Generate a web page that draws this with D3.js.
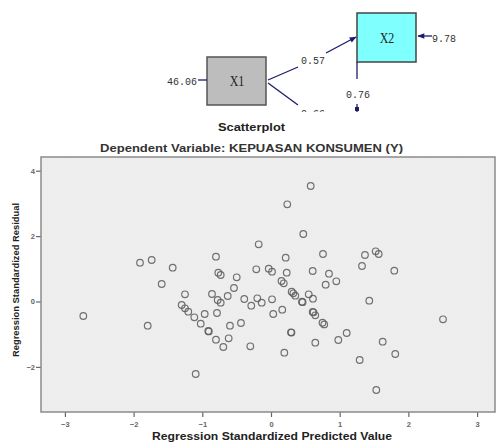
<!DOCTYPE html>
<html><head><meta charset="utf-8">
<script src="https://cdn.jsdelivr.net/npm/d3@7"></script>
<style>body{margin:0;background:#fff}svg{display:block}</style>
</head><body>
<svg id="c" width="498" height="442"></svg>
<script>
// ---- data ----
const predicted = [-1.907,-1.737,-1.431,-1.591,0.578,0.237,0.470,-0.179,-0.801,0.214,0.757,-0.767,-0.732,-0.499,-0.214,-0.033,0.015,0.229,0.607,0.844,0.951,0.796,0.153,0.186,-0.539,1.368,1.524,1.568,1.325,1.795,-1.252,-1.300,-1.252,-1.204,-2.732,-1.795,-0.859,-0.630,-0.776,-0.732,-0.389,-0.199,-0.135,-0.287,0.015,0.301,0.325,0.354,0.451,0.460,0.549,0.611,-0.965,-0.786,-1.116,-1.023,0.033,0.164,0.607,0.620,0.645,-0.597,-0.437,-0.913,-0.905,-0.801,-0.616,-0.694,-0.301,0.291,0.298,0.750,0.775,0.645,0.980,0.194,-1.096,1.431,2.504,1.102,1.626,1.809,1.291,1.533];
const residual  = [1.187,1.269,1.034,0.535,3.532,2.972,2.064,1.749,1.370,1.339,1.453,0.881,0.810,0.740,0.985,1.003,0.911,0.881,0.933,0.850,0.618,0.514,0.627,0.557,0.413,1.422,1.535,1.453,1.086,0.942,0.220,-0.107,-0.208,-0.312,-0.443,-0.740,0.229,0.168,0.046,-0.037,0.076,0.098,-0.037,-0.128,0.067,0.300,0.251,0.177,-0.006,-0.020,0.220,0.086,-0.382,-0.352,-0.483,-0.679,-0.382,-0.251,-0.321,-0.330,-0.422,-0.740,-0.657,-0.902,-0.915,-1.168,-1.125,-1.391,-1.370,-0.942,-0.950,-0.650,-0.700,-1.260,-1.177,-1.566,-2.217,0.024,-0.544,-0.963,-1.229,-1.606,-1.789,-2.706];
const xTicks = [-3,-2,-1,0,1,2,3];
const yTicks = [-2,0,2,4];
const pathNodes = ["X1","X2"];
const pathValues = ["46.06","0.57","0.76","9.78","0.66"];
const titleText = "Scatterplot";
const subtitleText = "Dependent Variable: KEPUASAN KONSUMEN (Y)";
const xTitle = "Regression Standardized Predicted Value";
const yTitle = "Regression Standardized Residual";

const svg = d3.select("#c");
const sans = "Arial,'Liberation Sans',sans-serif";

// ---- path diagram (top) ----
svg.append("defs").html(`
 <clipPath id="dclip"><rect x="0" y="0" width="498" height="112"/></clipPath>
 <marker id="ah" viewBox="0 0 10 10" refX="9" refY="5" markerWidth="9" markerHeight="7" orient="auto" markerUnits="userSpaceOnUse">
   <path d="M0,1 L10,5 L0,9 Z" fill="#1c1c6c"/></marker>
 <filter id="noise" x="0" y="0" width="100%" height="100%">
   <feTurbulence type="fractalNoise" baseFrequency="0.9" numOctaves="1" seed="3" result="t"/>
   <feColorMatrix type="matrix" values="0 0 0 0 0.9  0 0 0 0 0.9  0 0 0 0 0.9  0 0 0 0.35 0" result="n"/>
   <feComposite in="n" in2="SourceGraphic" operator="in" result="m"/>
   <feMerge><feMergeNode in="SourceGraphic"/><feMergeNode in="m"/></feMerge>
 </filter>`);
const diag = svg.append("g").attr("clip-path","url(#dclip)");
const navy = "#1c1c6c";
const mono = "'Liberation Mono','DejaVu Sans Mono',monospace";
diag.append("rect").attr("x",207).attr("y",57).attr("width",59).attr("height",48)
  .attr("fill","#bdbdbd").attr("stroke","#555").attr("stroke-width",1.5);
diag.append("rect").attr("x",357).attr("y",13).attr("width",59).attr("height",49)
  .attr("fill","#80ffff").attr("stroke","#444").attr("stroke-width",1.5);
diag.append("text").attr("x",237).attr("y",86).attr("text-anchor","middle")
  .attr("font-family","'Liberation Serif',serif").attr("font-size",15).attr("fill","#222")
  .attr("transform","translate(237,0) scale(0.8,1) translate(-237,0)").text(pathNodes[0]);
diag.append("text").attr("x",387).attr("y",43).attr("text-anchor","middle")
  .attr("font-family","'Liberation Serif',serif").attr("font-size",15).attr("fill","#222")
  .attr("transform","translate(387,0) scale(0.8,1) translate(-387,0)").text(pathNodes[1]);
const ln = (x1,y1,x2,y2,m)=>{const l=diag.append("line").attr("x1",x1).attr("y1",y1).attr("x2",x2).attr("y2",y2)
  .attr("stroke",navy).attr("stroke-width",1.3); if(m) l.attr("marker-end","url(#ah)"); return l;};
ln(198,80,207,80);
ln(268,80,298,67);
ln(326,53,356,37,true);
ln(268,83,298,105);
ln(357,62,357,79);
ln(357,104,357,112);
diag.append("rect").attr("x",355).attr("y",107).attr("width",4).attr("height",4).attr("fill",navy);
ln(432,36,418,36,true);
const vt = (x,y,t)=>diag.append("text").attr("x",x).attr("y",y).attr("font-family",mono)
  .attr("font-size",10).attr("fill","#333").text(t);
vt(167,85,pathValues[0]);
vt(301,64,pathValues[1]);
vt(346,98,pathValues[2]);
vt(432,42,pathValues[3]);
vt(301,116.5,pathValues[4]);

// ---- titles ----
svg.append("text").attr("x",218).attr("y",131)
  .attr("font-family",sans).attr("font-weight","bold").attr("textLength",67).attr("lengthAdjust","spacingAndGlyphs")
  .attr("font-size",11).attr("fill","#222").text(titleText);
svg.append("text").attr("x",100).attr("y",152)
  .attr("font-family",sans).attr("font-weight","bold").attr("textLength",303).attr("lengthAdjust","spacingAndGlyphs")
  .attr("font-size",11).attr("fill","#333").text(subtitleText);

// ---- scatter ----
const L=41,R=495,T=157,B=412;
const x = d3.scaleLinear().domain([-3.348,3.261]).range([L,R]);
const y = d3.scaleLinear().domain([-3.379,4.419]).range([B,T]);

svg.append("rect").attr("x",L).attr("y",T).attr("width",R-L).attr("height",B-T)
  .attr("fill","#ececec").attr("filter","url(#noise)");

const xa = svg.append("g").attr("transform",`translate(0,${B})`)
  .call(d3.axisBottom(x).tickValues(xTicks).tickSize(5).tickSizeOuter(0).tickFormat(d3.format("d")));
const ya = svg.append("g").attr("transform",`translate(${L},0)`)
  .call(d3.axisLeft(y).tickValues(yTicks).tickSize(5).tickSizeOuter(0).tickFormat(d3.format("d")));
[xa,ya].forEach(a=>{
  a.select(".domain").remove();
  a.selectAll(".tick line").attr("stroke","#666").attr("stroke-width",1.2);
  a.selectAll(".tick text").attr("font-family",sans)
    .attr("font-size",7.5).attr("fill","#666").attr("font-weight","bold");
});
xa.selectAll(".tick text").attr("dy","0.9em");
ya.selectAll(".tick text").attr("x",-6);

svg.append("rect").attr("x",L).attr("y",T).attr("width",R-L).attr("height",B-T)
  .attr("fill","none").attr("stroke","#8a8a8a").attr("stroke-width",1.5);

svg.append("g").selectAll("circle").data(predicted.map((p,i)=>[p,residual[i]])).join("circle")
  .attr("cx",d=>x(d[0])).attr("cy",d=>y(d[1])).attr("r",3.3)
  .attr("fill","none").attr("stroke","#5a5a5a").attr("stroke-width",1.2).attr("stroke-opacity",0.85);

svg.append("text").attr("x",152).attr("y",440)
  .attr("font-family",sans).attr("font-weight","bold").attr("textLength",240).attr("lengthAdjust","spacingAndGlyphs")
  .attr("font-size",10).attr("fill","#222").text(xTitle);
svg.append("text").attr("transform","translate(19,357) rotate(-90)")
  .attr("font-family",sans).attr("font-weight","bold").attr("textLength",154).attr("lengthAdjust","spacingAndGlyphs")
  .attr("font-size",9.5).attr("fill","#222").text(yTitle);
</script>
</body></html>
